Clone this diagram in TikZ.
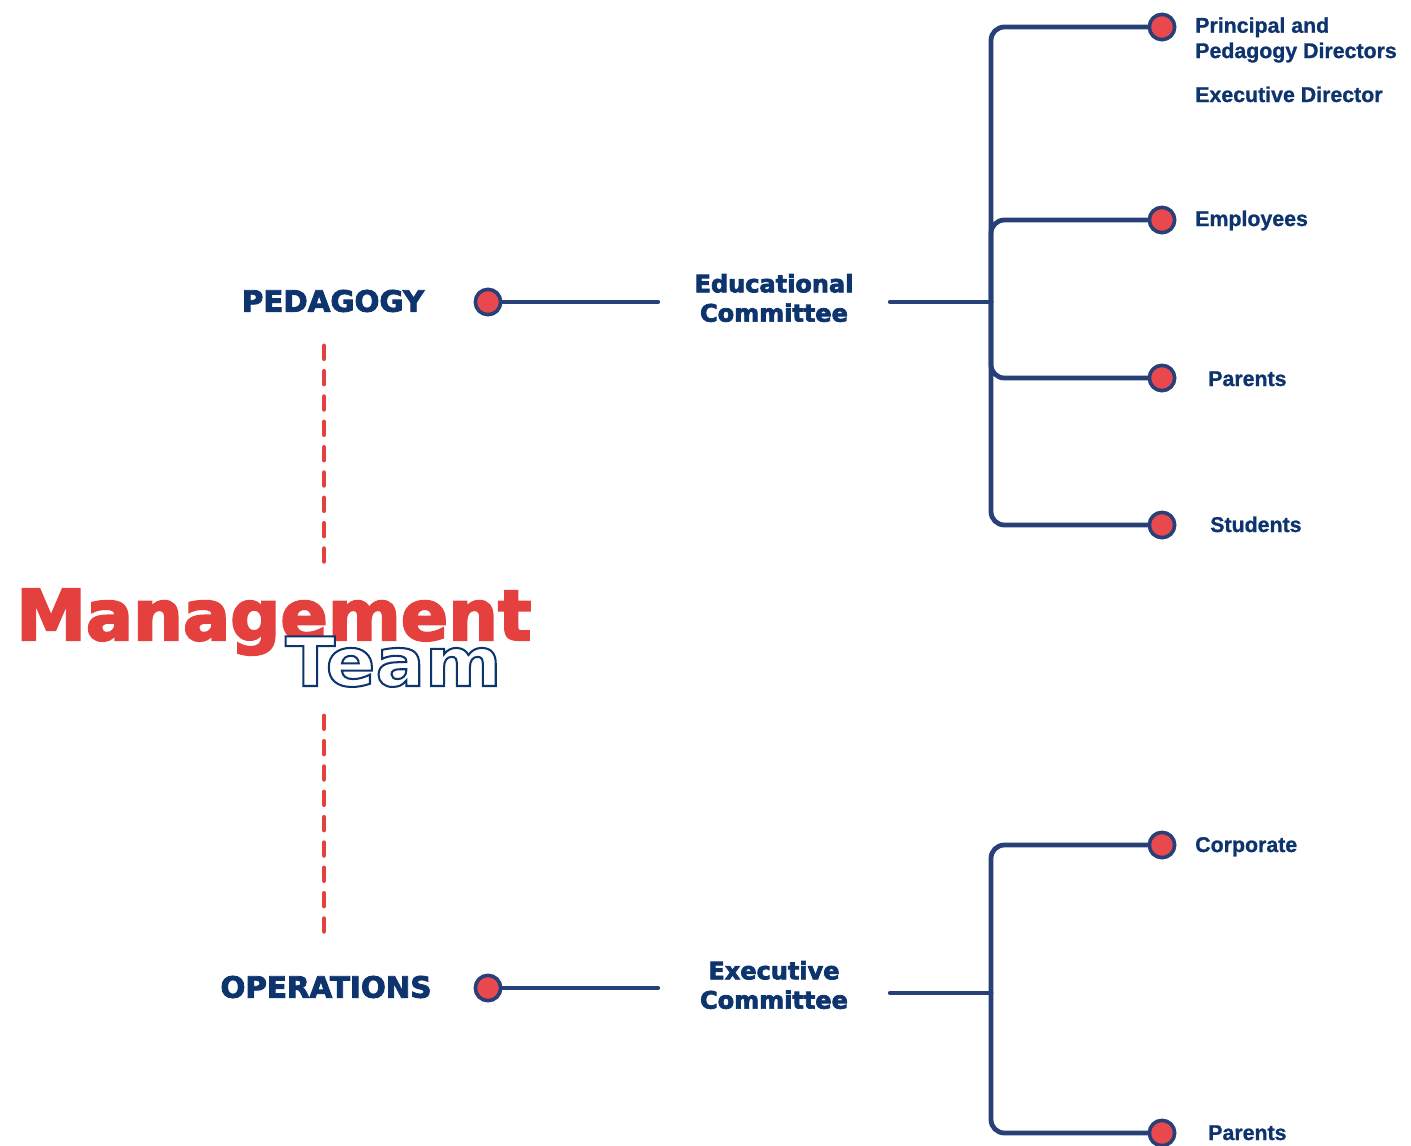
\documentclass[tikz,border=0pt]{standalone}
\usepackage{fontspec}
\setmainfont{Liberation Sans}
\newfontfamily\headfont{DejaVu Sans}[BoldFeatures={FakeBold=3}]
\newfontfamily\teamfont{DejaVu Sans}[BoldFeatures={FakeBold=3,FakeStretch=1.08}]
\newfontfamily\leaffont{Liberation Sans}[BoldFeatures={FakeBold=1}]
\definecolor{navyline}{RGB}{40,64,120}
\definecolor{navytext}{RGB}{14,52,110}
\definecolor{mgmtred}{RGB}{228,64,62}
\definecolor{dotred}{RGB}{232,72,78}
% white fill, navy stroke for the outlined word
\newcommand\outlineword[1]{\special{pdf:bcolor [1 1 1] [0.055 0.204 0.431]}#1\special{pdf:ecolor}}
\begin{document}
\begin{tikzpicture}[x=0.75pt,y=-0.75pt]
        \tikzstyle{dot} = [circle, fill=dotred, draw=navyline, line width=2.7pt, minimum size=19pt, inner sep=0pt]
        \tikzstyle{head} = [text=navytext, font=\headfont\bfseries\fontsize{22}{26}\selectfont, inner sep=0pt]
        \tikzstyle{committee} = [text=navytext, font=\headfont\bfseries\fontsize{18}{22}\selectfont, align=center, inner sep=0pt, minimum width=174pt]
        \tikzstyle{leaf} = [text=navytext, font=\leaffont\bfseries\fontsize{16}{19}\selectfont, align=left, inner sep=0pt]
        \tikzstyle{line} = [draw=navyline, line width=3.6pt, line cap=round, rounded corners=10pt]
        \tikzstyle{dashline} = [draw=mgmtred, line width=3.6pt, line cap=round, dash pattern=on 9.5pt off 9.5pt]
        \useasboundingbox (0,0) rectangle (1411,1146);
        % title
        \node[anchor=base west, inner sep=0pt, text=mgmtred, font=\headfont\bfseries\fontsize{52.5}{60}\selectfont] (mgmt) at (16,640) {Management};
        \node[anchor=base west, inner sep=0pt, font=\teamfont\bfseries\fontsize{51}{60}\selectfont] (team) at (285,686) {\outlineword{Team}};
        \coordinate (dtop1) at (324,346);
        \coordinate (dbot1) at (324,572);
        \coordinate (dtop2) at (324,716);
        \coordinate (dbot2) at (324,942);
        \draw[dashline] (dtop1) -- (dbot1);
        \draw[dashline] (dtop2) -- (dbot2);
        % pedagogy side
        \node[head] (ped) at (333,301) {PEDAGOGY};
        \node[dot] (peddot) at (488,302) {};
        \node[committee] (educ) at (774,298) {Educational\\Committee};
        \coordinate (ejoint) at (991,302);
        \node[dot] (prdot) at (1162,27) {};
        \node[dot] (empdot) at (1162,220) {};
        \node[dot] (pardot) at (1162,378) {};
        \node[dot] (studot) at (1162,525) {};
        \node[leaf, anchor=north west] (principal) at (1195,17) {Principal and\\Pedagogy Directors};
        \node[leaf, anchor=base west] (execdir) at (1195,102) {Executive Director};
        \node[leaf, anchor=base west] (employees) at (1195,226) {Employees};
        \node[leaf, anchor=base west] (parents) at (1208,386) {Parents};
        \node[leaf, anchor=base west] (students) at (1210,532) {Students};
        \draw[line] (peddot) -- (peddot -| educ.west);
        \draw[line] (educ.east |- ejoint) -- (ejoint);
        \draw[line] (prdot) -| (ejoint) |- (studot);
        \draw[line] (empdot) -| (ejoint);
        \draw[line] (pardot) -| (ejoint);
        % operations side
        \node[head] (ops) at (326,987) {OPERATIONS};
        \node[dot] (opsdot) at (488,988) {};
        \node[committee] (exec) at (774,985) {Executive\\Committee};
        \coordinate (xjoint) at (991,993);
        \node[dot] (corpdot) at (1162,845) {};
        \node[dot] (par2dot) at (1162,1133) {};
        \node[leaf, anchor=base west] (corporate) at (1195,852) {Corporate};
        \node[leaf, anchor=base west] (parents2) at (1208,1140) {Parents};
        \draw[line] (opsdot) -- (opsdot -| exec.west);
        \draw[line] (exec.east |- xjoint) -- (xjoint);
        \draw[line] (corpdot) -| (xjoint) |- (par2dot);
    \end{tikzpicture}
\end{document}
